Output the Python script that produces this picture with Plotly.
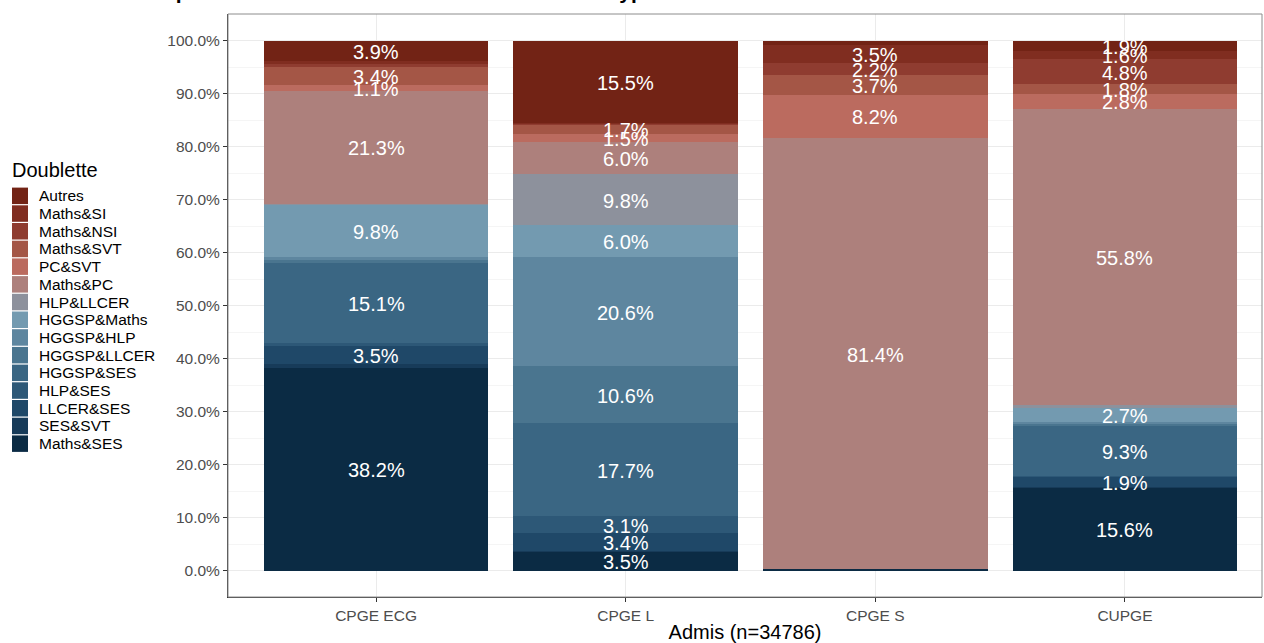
import plotly.graph_objects as go
import numpy as np

categories = ["CPGE ECG", "CPGE L", "CPGE S", "CUPGE"]

# stacking order: bottom -> top
doublettes = ["Maths&SES", "SES&SVT", "LLCER&SES", "HLP&SES", "HGGSP&SES",
              "HGGSP&LLCER", "HGGSP&HLP", "HGGSP&Maths", "HLP&LLCER",
              "Maths&PC", "PC&SVT", "Maths&SVT", "Maths&NSI", "Maths&SI", "Autres"]

colors = ["#0b2b44", "#173b59", "#1f4868", "#2d5877", "#3a6683",
          "#4a758f", "#5e869f", "#739ab0", "#8d919c",
          "#ad807c", "#bb6b5f", "#a45646", "#8f3c30", "#802d20", "#722315"]

# shares (%) per doublette, for [CPGE ECG, CPGE L, CPGE S, CUPGE]
maths_ses   = [38.2, 3.5, 0.2, 15.6]
ses_svt     = [0.7, 0.2, 0.0, 0.2]
llcer_ses   = [3.5, 3.4, 0.0, 1.9]
hlp_ses     = [0.5, 3.1, 0.0, 0.2]
hggsp_ses   = [15.1, 17.7, 0.0, 9.3]
hggsp_llcer = [0.6, 10.6, 0.0, 0.4]
hggsp_hlp   = [0.6, 20.6, 0.0, 0.4]
hggsp_maths = [9.8, 6.0, 0.0, 2.7]
hlp_llcer   = [0.2, 9.8, 0.0, 0.6]
maths_pc    = [21.3, 6.0, 81.4, 55.8]
pc_svt      = [1.1, 1.5, 8.2, 2.8]
maths_svt   = [3.4, 1.7, 3.7, 1.8]
maths_nsi   = [0.5, 0.2, 2.2, 4.8]
maths_si    = [0.6, 0.2, 3.5, 1.6]
autres      = [3.9, 15.5, 0.8, 1.9]

series = [maths_ses, ses_svt, llcer_ses, hlp_ses, hggsp_ses, hggsp_llcer,
          hggsp_hlp, hggsp_maths, hlp_llcer, maths_pc, pc_svt, maths_svt,
          maths_nsi, maths_si, autres]

y_ticks = [0, 10, 20, 30, 40, 50, 60, 70, 80, 90, 100]
y_tick_labels = [f"{v:.1f}%" for v in y_ticks]

FONT = "Liberation Sans, Arial, sans-serif"

W, H = 1264, 643
ML, MR, MT, MB = 228, 2, 14, 46
PW, PH = W - ML - MR, H - MT - MB


def px_to_paper_x(px):
    return (px - ML) / PW


def px_to_paper_y(py):
    return (H - MB - py) / PH


fig = go.Figure()
for name, vals, col in zip(doublettes, series, colors):
    fig.add_trace(go.Bar(
        x=categories, y=vals, name=name, width=0.9, showlegend=False,
        marker=dict(color=col, line=dict(width=0)),
        hovertemplate="%{x}<br>" + name + ": %{y:.1f}%<extra></extra>",
    ))

# labels at stacked midpoints (values >= 1 %)
arr = np.array(series)
cum = np.cumsum(arr, axis=0)
mid = cum - arr / 2
for i in range(arr.shape[0]):
    for j, cat in enumerate(categories):
        if arr[i, j] >= 1.0:
            fig.add_annotation(
                x=cat, y=mid[i, j], xref="x", yref="y",
                text=f"{arr[i, j]:.1f}%", showarrow=False,
                xanchor="center", yanchor="middle", yshift=-1,
                font=dict(color="white", size=20, family=FONT),
            )

fig.update_layout(
    barmode="stack",
    width=W, height=H,
    margin=dict(l=ML, r=MR, t=MT, b=MB, autoexpand=False),
    paper_bgcolor="white", plot_bgcolor="white",
    font=dict(family=FONT, color="#000000"),
    showlegend=False,
)

fig.update_xaxes(
    type="category", categoryorder="array", categoryarray=categories,
    range=[-0.593, 3.549], automargin=False,
    showgrid=True, gridcolor="#ebebeb", gridwidth=1,
    showline=True, linecolor="#333333", linewidth=1,
    ticks="outside", ticklen=4, tickcolor="#333333",
    tickfont=dict(size=15.5, color="#4d4d4d"),
    title=dict(text="Admis (n=34786)", font=dict(size=20, color="#000000"), standoff=3),
    zeroline=False,
)
fig.update_yaxes(
    range=[-5, 105], automargin=False,
    tickmode="array", tickvals=y_ticks, ticktext=y_tick_labels,
    showgrid=True, gridcolor="#ebebeb", gridwidth=1,
    minor=dict(dtick=5, tick0=0, showgrid=True, gridcolor="#f5f5f5", gridwidth=1),
    showline=True, linecolor="#333333", linewidth=1,
    ticks="outside", ticklen=4, tickcolor="#333333",
    tickfont=dict(size=15.5, color="#4d4d4d"),
    zeroline=False,
)

# panel border (top/right)
fig.add_shape(type="rect", xref="paper", yref="paper", x0=0, y0=0, x1=1, y1=1,
              line=dict(color="#8c8c8c", width=1), fillcolor="rgba(0,0,0,0)", layer="above")

# legend drawn on the left (top item = last stacked series)
leg_top, leg_pitch = 187.0, 17.7
fig.add_annotation(
    text="Doublette", xref="paper", yref="paper",
    x=px_to_paper_x(10), y=px_to_paper_y(170), xanchor="left", yanchor="middle",
    showarrow=False, font=dict(size=20, color="#000000", family=FONT),
)
for k, (name, col) in enumerate(zip(doublettes[::-1], colors[::-1])):
    y0 = leg_top + k * leg_pitch
    fig.add_shape(type="rect", xref="paper", yref="paper",
                  x0=px_to_paper_x(12), x1=px_to_paper_x(28),
                  y0=px_to_paper_y(y0 + 0.6), y1=px_to_paper_y(y0 + leg_pitch - 0.6),
                  line=dict(width=0), fillcolor=col)
    fig.add_annotation(
        text=name, xref="paper", yref="paper",
        x=px_to_paper_x(37), y=px_to_paper_y(y0 + leg_pitch / 2),
        xanchor="left", yanchor="middle", showarrow=False,
        font=dict(size=15.5, color="#000000", family=FONT),
    )

# title (mostly cut off at the top of the figure, as in the reference)
fig.add_annotation(
    text="<b>Répartition des doublettes des admis selon le type de formation</b>",
    xref="paper", yref="paper", x=px_to_paper_x(147), y=1, xanchor="left", yanchor="bottom",
    yshift=9, showarrow=False, font=dict(size=21, color="#000000", family=FONT),
)

fig.write_html(
    "out.html",
    config={"displayModeBar": False},
    post_script="document.body.style.margin='0';document.body.style.overflow='hidden';",
)
